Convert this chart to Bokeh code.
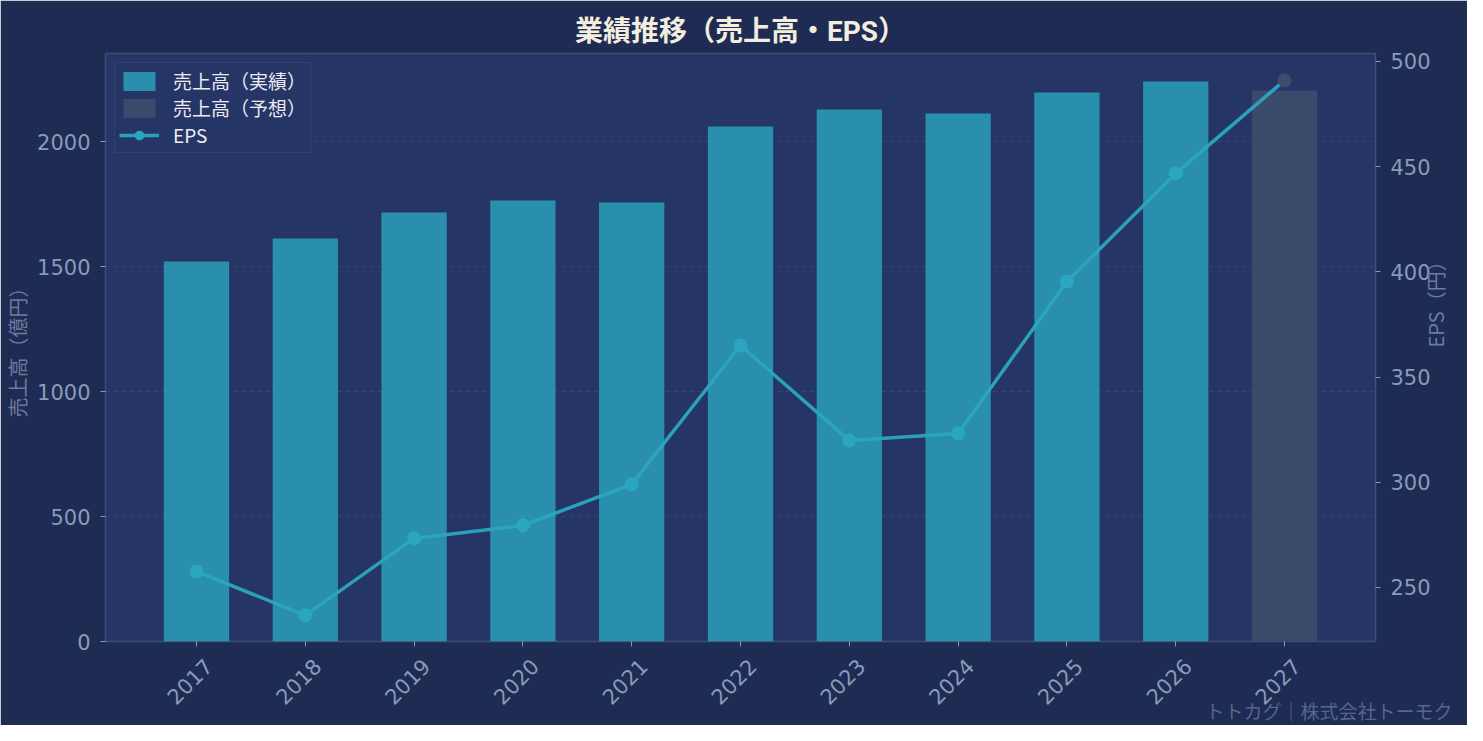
import math
from bokeh.plotting import figure
from bokeh.models import (ColumnDataSource, Range1d, LinearAxis, FixedTicker,
                          Legend, LegendItem, Title)
from bokeh.embed import file_html
from bokeh.resources import INLINE

# 年度と売上高（億円）、EPS（円）
years = ["2017", "2018", "2019", "2020", "2021", "2022",
         "2023", "2024", "2025", "2026", "2027"]
sales_actual = [1520, 1612, 1716, 1764, 1756, 2060, 2128, 2112, 2196, 2240]
sales_forecast = [2204]
eps = [257.6, 236.7, 273.3, 279.5, 299.0, 365.0, 319.9, 323.2, 395.4, 446.8, 491.0]

BG = "#1e2b52"
PANEL = "#253566"
EDGE = "#3d4f78"
TICK = "#8a9abb"
LABEL = "#6c7ca0"
TEAL = "#2ba6bf"
FC = "#3a4a6b"
JP = "Noto Sans CJK JP"
NUM = "DejaVu Sans"

idx = list(range(len(years)))
n_act = len(sales_actual)

src_act = ColumnDataSource(dict(x=idx[:n_act], top=sales_actual))
src_fc = ColumnDataSource(dict(x=idx[n_act:], top=sales_forecast))
src_eps = ColumnDataSource(dict(x=idx, y=eps))
src_eps_act = ColumnDataSource(dict(x=idx[:n_act], y=eps[:n_act]))
src_eps_fc = ColumnDataSource(dict(x=idx[n_act:], y=eps[n_act:]))

x0, x1 = -0.836, len(years) - 1 + 0.836
p = figure(frame_width=1270, frame_height=588,
           x_range=Range1d(x0, x1), y_range=Range1d(0, 2352),
           output_backend="svg", toolbar_location=None,
           min_border_left=105, min_border_right=92,
           min_border_top=53, min_border_bottom=84)
p.extra_y_ranges = {"eps": Range1d(224.3, 503.8)}
# 年度ラベル用（右寄せの回転ラベルを目盛りの中央に見せるため少しずらす）
shift = 0.11
p.extra_x_ranges = {"lab": Range1d(x0 - shift, x1 - shift)}

p.background_fill_color = PANEL
p.border_fill_color = BG
p.outline_line_color = EDGE
p.outline_line_width = 1.5

p.title.text = "業績推移（売上高・EPS）"
p.title.align = "center"
p.title.vertical_align = "top"
p.title.text_color = "#f3eddf"
p.title.text_font = "Roboto, 'Noto Sans CJK JP'"
p.title.text_font_size = "28px"
p.title.text_font_style = "bold"
p.title.standoff = 8

# 売上高
r_act = p.vbar(x="x", top="top", width=0.6, source=src_act,
               fill_color=TEAL, fill_alpha=0.8, line_color=None)
r_fc = p.vbar(x="x", top="top", width=0.6, source=src_fc,
              fill_color=FC, line_color=None)

# EPS
r_line = p.line("x", "y", source=src_eps, y_range_name="eps",
                line_color=TEAL, line_width=3.5, line_alpha=0.95)
r_pts = p.scatter("x", "y", source=src_eps_act, y_range_name="eps", size=14,
                  fill_color=TEAL, line_color=None)
p.scatter("x", "y", source=src_eps_fc, y_range_name="eps", size=14,
          fill_color="#3e4d6e", line_color=None)

# 軸
xa = p.xaxis[0]
xa.ticker = FixedTicker(ticks=idx)

xl = LinearAxis(x_range_name="lab", ticker=FixedTicker(ticks=idx))
xl.major_label_overrides = {i: y for i, y in zip(idx, years)}
xl.major_label_orientation = math.pi / 4
p.add_layout(xl, "below")

ya = p.yaxis[0]
ya.ticker = FixedTicker(ticks=[0, 500, 1000, 1500, 2000])
ya.axis_label = "売上高（億円）"

ra = LinearAxis(y_range_name="eps", axis_label="EPS（円）",
                ticker=FixedTicker(ticks=[250, 300, 350, 400, 450, 500]))
if "axis_label_orientation" in ra.properties():
    ra.axis_label_orientation = math.pi / 2
p.add_layout(ra, "right")

for ax in [xa, xl, ya, ra]:
    ax.axis_line_color = None
    ax.major_tick_line_color = TICK
    ax.major_tick_in = 0
    ax.major_tick_out = 5
    ax.minor_tick_line_color = None
    ax.major_label_text_color = TICK
    ax.major_label_text_font = NUM
    ax.major_label_text_font_size = "21px"
    ax.major_label_standoff = 10
    ax.axis_label_text_color = LABEL
    ax.axis_label_text_font = JP
    ax.axis_label_text_font_size = "20px"
    ax.axis_label_text_font_style = "normal"
    ax.axis_label_standoff = 2

xa.major_label_text_font_size = "0px"
xa.major_label_text_color = None
xa.major_label_standoff = 0
xl.major_tick_line_color = None
xl.major_tick_out = 0
xl.major_label_standoff = 16

p.xgrid.grid_line_color = None
p.ygrid.grid_line_color = EDGE
p.ygrid.grid_line_alpha = 0.7
p.ygrid.grid_line_dash = "4 4"

legend = Legend(items=[
    LegendItem(label="売上高（実績）", renderers=[r_act]),
    LegendItem(label="売上高（予想）", renderers=[r_fc]),
    LegendItem(label="EPS", renderers=[r_line, r_pts]),
], location="top_left")
legend.background_fill_color = PANEL
legend.background_fill_alpha = 0.9
legend.border_line_color = EDGE
legend.border_line_width = 1.5
legend.label_text_color = "#ecebf0"
legend.label_text_font = JP
legend.label_text_font_size = "19px"
legend.glyph_width = 40
legend.glyph_height = 24
legend.label_height = 24
legend.spacing = 0
legend.padding = 4
legend.margin = 9
legend.label_standoff = 14
p.add_layout(legend)

p.add_layout(Title(text="トトカグ｜株式会社トーモク", align="right", offset=-77,
                   vertical_align="top", standoff=-36,
                   text_color="#56658a", text_font=JP,
                   text_font_size="19px", text_font_style="normal"), "below")

open("out.html", "w").write(file_html(p, INLINE))
